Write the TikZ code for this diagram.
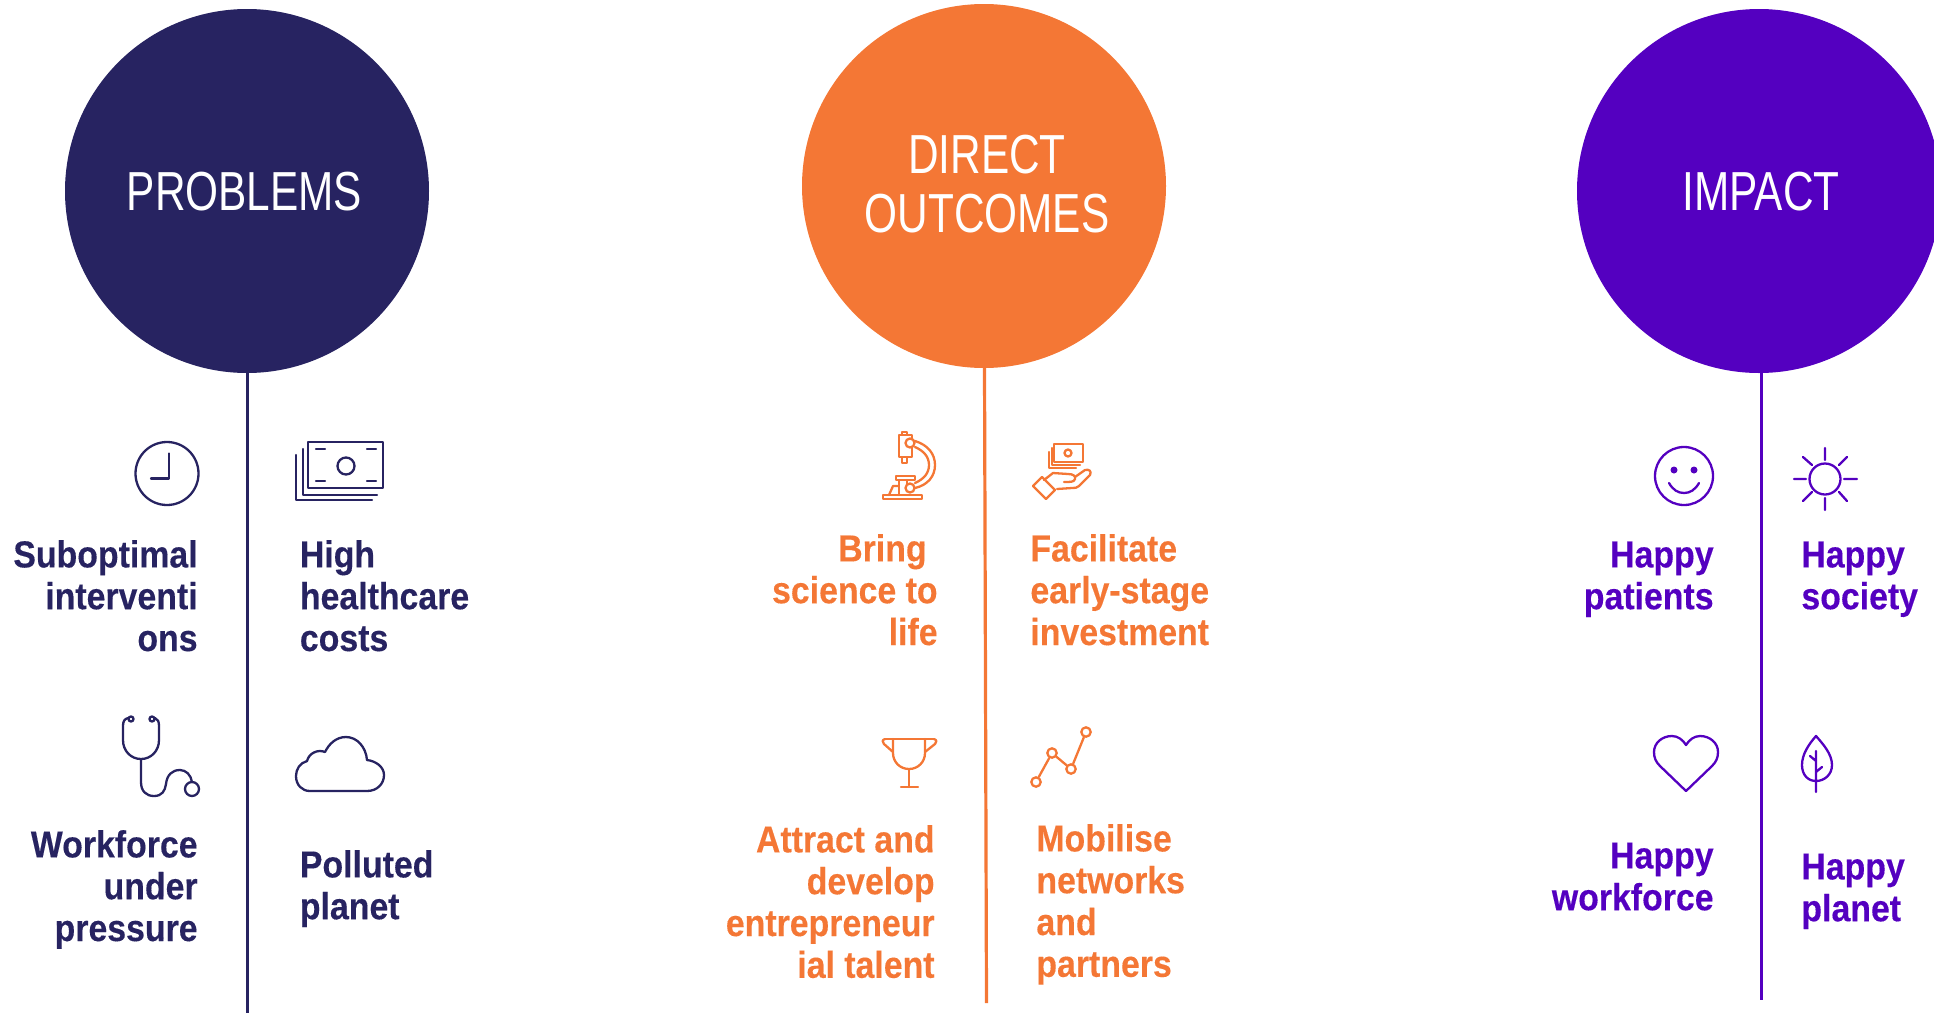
\documentclass[tikz,border=0pt]{standalone}
\usepackage{fontspec}
\setmainfont{Liberation Sans}
\newfontfamily\headfont[FakeStretch=0.77]{Liberation Sans}
\newfontfamily\bodyfont[FakeStretch=0.90,BoldFeatures={FakeBold=0.25}]{Liberation Sans}
\definecolor{navy}{HTML}{272361}
\definecolor{orng}{HTML}{F47735}
\definecolor{purp}{HTML}{5400C0}
\newcommand\firstline{\rule{0pt}{15pt}}
\tikzset{
  x=0.5pt,y=-0.5pt,
  disc/.style={circle,minimum size=182pt,inner sep=0pt},
  headtxt/.style={inner sep=0pt,align=center,text=white,
     font=\headfont\fontsize{27.5}{29.6}\selectfont},
  stemline/.style={line width=1.6pt},
  icon/.style={line width=1.15pt,line cap=round,line join=round},
  txtr/.style={anchor=north east,inner sep=0pt,align=right,
     font=\bodyfont\bfseries\fontsize{18.8}{20.9}\selectfont},
  txtl/.style={anchor=north west,inner sep=0pt,align=left,
     font=\bodyfont\bfseries\fontsize{18.8}{20.9}\selectfont},
  dot/.style={circle,draw,inner sep=0pt,minimum size=4.7pt,line width=1.15pt},
}
\begin{document}
\begin{tikzpicture}
\useasboundingbox (0,0) rectangle (1934,1013);
% discs
\node[disc,fill=navy] (problems) at (247,191) {};
\node[disc,fill=orng] (outcomes) at (984,186) {};
\node[disc,fill=purp] (impact) at (1759,191) {};
\node[headtxt] (problemstxt) at (244.5,192) {PROBLEMS};
\node[headtxt] (outcomestxt) at (987,184) {DIRECT\\OUTCOMES};
\node[headtxt] (impacttxt) at (1761,192) {IMPACT};
% stems
\coordinate (pstart) at (247.5,373);
\coordinate (ostart) at (984.5,367);
\coordinate (istart) at (1761.5,373);
\coordinate (pend) at (247.5,1013);
\coordinate (oend) at (986.5,1003);
\coordinate (iend) at (1761.5,1000);
\draw[stemline,navy] (pstart) -- (pend);
\draw[stemline,orng] (ostart) -- (oend);
\draw[stemline,purp] (istart) -- (iend);
% texts: problems
\node[txtr,text=navy] (t1) at (198,537) {\firstline Suboptimal\\interventi\\ons};
\node[txtl,text=navy] (t2) at (299.5,537) {\firstline High\\healthcare\\costs};
\node[txtr,text=navy] (t3) at (198,827) {\firstline Workforce\\under\\pressure};
\node[txtl,text=navy] (t4) at (299.5,847) {\firstline Polluted\\planet};
% texts: outcomes
\node[txtr,text=orng] (t5) at (938,531) {\firstline Bring\hspace*{5.5pt}\\science to\\life};
\node[txtl,text=orng] (t6) at (1030,531) {\firstline Facilitate\\early-stage\\investment};
\node[txtr,text=orng] (t7) at (935,822) {\firstline Attract and\\develop\\entrepreneur\\ial talent};
\node[txtl,text=orng] (t8) at (1036,821) {\firstline Mobilise\\networks\\and\\partners};
% texts: impact
\node[txtr,text=purp] (t9) at (1714,537) {\firstline Happy\\patients};
\node[txtl,text=purp] (t10) at (1801,537) {\firstline Happy\\society};
\node[txtr,text=purp] (t11) at (1714,838) {\firstline Happy\\workforce};
\node[txtl,text=purp] (t12) at (1801,849) {\firstline Happy\\planet};
% icons navy
\begin{scope}[icon,navy]
 % clock
 \draw (167,473.5) circle[radius=31.5];
 \draw (169,453.5) -- (169,478.5) -- (151,478.5);
 % money
 \draw (308,442) rectangle (383,488);
 \draw (303,449) -- (303,495) -- (377,495);
 \draw (296,455) -- (296,500) -- (372,500);
 \draw (346,466) circle[radius=8.5];
 \draw (316,449) -- (325,449) (367,449) -- (376,449) (316,481) -- (325,481) (367,481) -- (376,481);
 % stethoscope
 \draw (131,719) circle[radius=2.5] (152,719) circle[radius=2.5];
 \draw (128,718) .. controls (124,719) and (123,722) .. (123,726) -- (123,740)
   .. controls (123,751) and (131,759) .. (141,759)
   .. controls (151,759) and (159,751) .. (159,740) -- (159,726)
   .. controls (159,722) and (158,719) .. (155,718);
 \draw (141,759) -- (141,782) .. controls (141,791) and (146,796) .. (154,796)
   .. controls (162,796) and (165,791) .. (166,784)
   .. controls (167,775) and (172,770) .. (180,770)
   .. controls (186,770) and (191,775) .. (192,782);
 \draw (192,789) circle[radius=7];
 % cloud
 \draw (310,791) -- (367,791) .. controls (377,791) and (384,784) .. (384,775)
   .. controls (384,767) and (376,761) .. (367,760)
   .. controls (366,747) and (357,737) .. (346,737)
   .. controls (336,737) and (329,744) .. (325,752)
   .. controls (318,749) and (309,753) .. (307,761)
   .. controls (300,763) and (296,769) .. (296,776)
   .. controls (296,785) and (302,791) .. (310,791) -- cycle;
\end{scope}
% icons orange
\begin{scope}[icon,orng]
 % microscope
 \draw (899,435) rectangle (912,457);
 \draw (902,432) rectangle (907,435);
 \draw (902,457) rectangle (907,463);
 \draw[fill=white] (910,443) circle[radius=4.5];
 \draw (915,441) .. controls (928,445) and (935,454) .. (935,465) .. controls (935,476) and (928,485) .. (915,488);
 \draw (915,447) .. controls (924,451) and (929,457) .. (929,465) .. controls (929,473) and (924,479) .. (915,483);
 \draw (896,476) rectangle (915,480);
 \draw (899,480) -- (899,495) (907,480) -- (907,485);
 \draw[fill=white] (910,488) circle[radius=4.5];
 \draw (883,495) rectangle (922,499);
 \draw (889,495) -- (893,486) -- (898,486);
 % hand with money
 \draw (1054,444) rectangle (1083,462);
 \draw (1068,453) circle[radius=3.5];
 \draw (1052,448) -- (1052,465) -- (1080,465);
 \draw (1049,452) -- (1049,468) -- (1076,468);
 \draw (1033,486) -- (1042,477) -- (1055,490) -- (1046,499) -- cycle;
 \draw (1044,480) -- (1053,473) -- (1068,474) .. controls (1073,474) and (1076,476) .. (1075,479)
    .. controls (1074,482) and (1071,482) .. (1064,482);
 \draw (1075,477) -- (1085,470) .. controls (1089,469) and (1092,471) .. (1090,475) -- (1079,486)
    .. controls (1077,488) and (1075,488) .. (1072,488) -- (1057,489);
 % trophy
 \draw (885,739) -- (934,739);
 \draw (893,739) -- (893,753) .. controls (893,762) and (900,769) .. (909,769)
   .. controls (918,769) and (925,762) .. (925,753) -- (925,739);
 \draw (885,739) .. controls (882,740) and (882,742) .. (884,744) -- (893,752);
 \draw (934,739) .. controls (937,740) and (937,742) .. (935,744) -- (925,752);
 \draw (909,769) -- (909,787) (901,787) -- (918,787);
 % chart
 \node[dot,draw=orng] (c1) at (1036,782) {};
 \node[dot,draw=orng] (c2) at (1052,753) {};
 \node[dot,draw=orng] (c3) at (1071,769) {};
 \node[dot,draw=orng] (c4) at (1086,732) {};
 \draw (c1) -- (c2) (c2) -- (c3) (c3) -- (c4);
\end{scope}
% icons purple
\begin{scope}[icon,purp]
 % smiley
 \draw (1684,476) circle[radius=29];
 \fill (1674,470) circle[radius=3.5] (1694,470) circle[radius=3.5];
 \draw (1669,483) .. controls (1673,490) and (1678,493) .. (1684,493) .. controls (1690,493) and (1695,490) .. (1699,483);
 % sun
 \draw (1825,479) circle[radius=15.5];
 \draw (1825,448) -- (1825,460) (1825,498) -- (1825,510) (1794,479) -- (1806,479) (1844,479) -- (1857,479)
   (1803,457) -- (1812,465) (1847,457) -- (1839,465) (1803,501) -- (1812,492) (1847,501) -- (1839,492);
 % heart
 \draw (1686,791) -- (1660,766) .. controls (1656,762) and (1654,758) .. (1654,752)
   .. controls (1654,743) and (1662,736) .. (1672,736)
   .. controls (1678,736) and (1683,740) .. (1686,745)
   .. controls (1689,740) and (1694,736) .. (1700,736)
   .. controls (1710,736) and (1718,743) .. (1718,752)
   .. controls (1718,758) and (1716,762) .. (1712,766) -- cycle;
 % leaf
 \draw (1816,736) .. controls (1809,744) and (1802,754) .. (1802,765)
   .. controls (1802,775) and (1808,781) .. (1816,781)
   .. controls (1824,781) and (1832,775) .. (1832,765)
   .. controls (1832,754) and (1823,744) .. (1816,736) -- cycle;
 \draw (1816,751) -- (1816,792) (1810,756) -- (1816,761) (1822,767) -- (1816,772);
\end{scope}
\end{tikzpicture}
\end{document}
